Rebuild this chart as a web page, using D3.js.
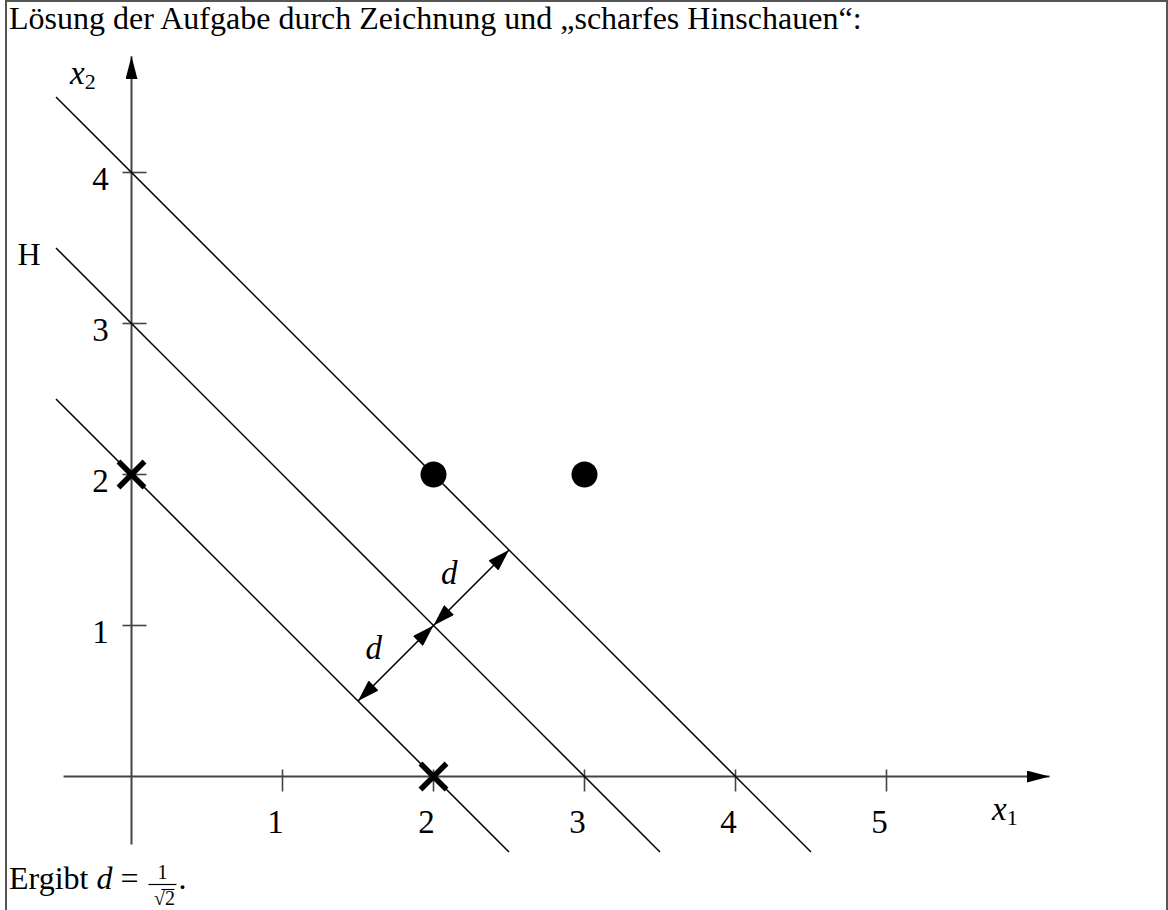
<!DOCTYPE html>
<html><head><meta charset="utf-8">
<script src="https://cdn.jsdelivr.net/npm/d3@7"></script>
<style>
html,body{margin:0;padding:0;background:#fff;}
svg{display:block;}
text{font-family:"Liberation Serif","Times New Roman",serif;fill:#000;}
</style></head>
<body>
<svg id="c" width="1168" height="910"></svg>
<script>
// ---- data ----
const titleText = "Lösung der Aufgabe durch Zeichnung und „scharfes Hinschauen“:";
const xTicks = [1, 2, 3, 4, 5];
const yTicks = [1, 2, 3, 4];
const lineConstants = [2, 3, 4];          // lines x1 + x2 = c
const hyperplaneLabel = "H";
const crossPoints = [[0, 2], [2, 0]];
const dotPoints = [[2, 2], [3, 2]];
const arrowSegments = [[[2, 1], [2.5, 1.5]], [[2, 1], [1.5, 0.5]]];
const arrowLabels = ["d", "d"];

// ---- drawing ----
const svg = d3.select("#c");
const x = d3.scaleLinear().domain([0, 5]).range([131.5, 886.5]);
const y = d3.scaleLinear().domain([0, 4]).range([776.5, 172.5]);

// frame
svg.append("path").attr("d", "M6,910 V1 H1167 V910")
  .attr("fill", "none").attr("stroke", "#555").attr("stroke-width", 2);

// title
const title = svg.append("text").attr("x", 9).attr("y", 29).attr("font-size", 29).text(titleText);
const tw = title.node().getComputedTextLength();
title.attr("font-size", 29 * 853 / tw);

const defs = svg.append("defs");
function marker(id, len, hw) {
  defs.append("marker").attr("id", id).attr("markerUnits", "userSpaceOnUse")
    .attr("markerWidth", len).attr("markerHeight", hw * 2)
    .attr("refX", len).attr("refY", hw).attr("orient", "auto-start-reverse")
    .append("path").attr("d", `M0,0 L${len},${hw} L0,${hw * 2} Z`).attr("fill", "#000");
}
marker("axHead", 23, 6);
marker("dHead", 22, 7);

// axes
const axisColor = "#444";
svg.append("line").attr("x1", x(-0.45)).attr("x2", x(6.08)).attr("y1", y(0)).attr("y2", y(0))
  .attr("stroke", axisColor).attr("stroke-width", 2).attr("marker-end", "url(#axHead)");
svg.append("line").attr("x1", x(0)).attr("x2", x(0)).attr("y1", y(-0.45)).attr("y2", y(4.77))
  .attr("stroke", axisColor).attr("stroke-width", 2).attr("marker-end", "url(#axHead)");

// ticks
svg.selectAll(".xt").data(xTicks).join("line")
  .attr("x1", d => x(d)).attr("x2", d => x(d)).attr("y1", y(0) - 7).attr("y2", y(0) + 15)
  .attr("stroke", axisColor).attr("stroke-width", 1.6);
svg.selectAll(".yt").data(yTicks).join("line")
  .attr("y1", d => y(d)).attr("y2", d => y(d)).attr("x1", x(0) - 9).attr("x2", x(0) + 15)
  .attr("stroke", axisColor).attr("stroke-width", 1.6);
const tickFont = 33;
svg.selectAll(".xl").data(xTicks).join("text")
  .attr("x", d => x(d) - 7).attr("y", y(0) + 56).attr("text-anchor", "middle").attr("font-size", tickFont)
  .text(d => d);
svg.selectAll(".yl").data(yTicks).join("text")
  .attr("x", x(0) - 31).attr("y", d => y(d) + 17).attr("text-anchor", "middle").attr("font-size", tickFont)
  .text(d => d);

// axis labels
function subLabel(px, py, base, sub) {
  const t = svg.append("text").attr("x", px).attr("y", py).attr("font-size", 33);
  t.append("tspan").attr("font-style", "italic").text(base);
  t.append("tspan").attr("font-size", 22).attr("dy", 5).text(sub);
}
subLabel(992, 820, "x", "1");
subLabel(70, 84, "x", "2");

// lines x1 + x2 = c
svg.selectAll(".hl").data(lineConstants).join("line")
  .attr("x1", c => x(-0.5)).attr("y1", c => y(c + 0.5))
  .attr("x2", c => x(c + 0.5)).attr("y2", c => y(-0.5))
  .attr("stroke", "#000").attr("stroke-width", 1.5);

svg.append("text").attr("x", 29).attr("y", 265).attr("text-anchor", "middle").attr("font-size", 32)
  .text(hyperplaneLabel);

// arrows
svg.selectAll(".ar").data(arrowSegments).join("line")
  .attr("x1", d => x(d[0][0])).attr("y1", d => y(d[0][1]))
  .attr("x2", d => x(d[1][0])).attr("y2", d => y(d[1][1]))
  .attr("stroke", "#000").attr("stroke-width", 1.6)
  .attr("marker-start", "url(#dHead)").attr("marker-end", "url(#dHead)");
svg.selectAll(".al").data(arrowSegments).join("text")
  .attr("x", (d) => (x(d[0][0]) + x(d[1][0])) / 2 - 22)
  .attr("y", (d) => (y(d[0][1]) + y(d[1][1])) / 2 - 4)
  .attr("text-anchor", "middle").attr("font-size", 33).attr("font-style", "italic")
  .text((d, i) => arrowLabels[i]);

// dots
svg.selectAll(".dot").data(dotPoints).join("circle")
  .attr("cx", d => x(d[0])).attr("cy", d => y(d[1])).attr("r", 13).attr("fill", "#000");

// crosses
const cs = 13;
crossPoints.forEach(p => {
  const cx = x(p[0]), cy = y(p[1]);
  svg.append("path").attr("d", `M${cx - cs},${cy - cs}L${cx + cs},${cy + cs}M${cx - cs},${cy + cs}L${cx + cs},${cy - cs}`)
    .attr("stroke", "#000").attr("stroke-width", 5.5);
});

// bottom text
const bt = svg.append("text").attr("x", 9).attr("y", 889).attr("font-size", 32);
bt.append("tspan").text("Ergibt ");
bt.append("tspan").attr("font-style", "italic").text("d");
bt.append("tspan").text(" =");
const bx = bt.node().getComputedTextLength() + 9 + 24;
svg.append("text").attr("x", bx).attr("y", 879).attr("text-anchor", "middle").attr("font-size", 20).text("1");
svg.append("line").attr("x1", bx - 14).attr("x2", bx + 14).attr("y1", 884.5).attr("y2", 884.5).attr("stroke", "#000").attr("stroke-width", 1.2);
svg.append("text").attr("x", bx + 2).attr("y", 905).attr("text-anchor", "middle").attr("font-size", 20).text("√2");
svg.append("line").attr("x1", bx - 1).attr("x2", bx + 12).attr("y1", 889.5).attr("y2", 889.5).attr("stroke", "#000").attr("stroke-width", 1.1);
svg.append("text").attr("x", bx + 16).attr("y", 889).attr("font-size", 32).text(".");
</script>
</body></html>
